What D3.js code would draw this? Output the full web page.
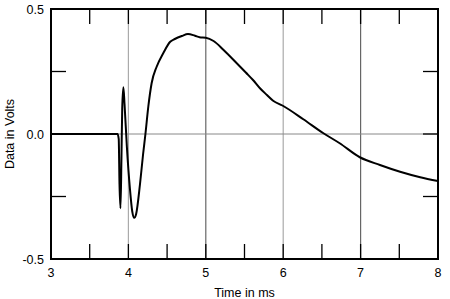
<!DOCTYPE html>
<html><head><meta charset="utf-8">
<script src="https://cdn.jsdelivr.net/npm/d3@7"></script>
<style>body{margin:0;background:#fff}svg{display:block}text{font-family:Arial,"Liberation Sans",sans-serif;fill:#000}</style>
</head><body><svg id="c" width="450" height="299"></svg>
<script>
const times = [3.0,3.86,3.875,3.885,3.898,3.91,3.92,3.935,3.95,3.98,4.02,4.05,4.075,4.10,4.15,4.19,4.22,4.257,4.30,4.365,4.45,4.54,4.60,4.69,4.77,4.86,4.92,5.0,5.1,5.23,5.40,5.52,5.61,5.70,5.79,5.87,5.99,6.26,6.52,6.73,6.99,7.25,7.51,7.77,8.0];
const volts = [0,0,-0.02,-0.2,-0.297,-0.1,0.1,0.187,0.12,-0.05,-0.22,-0.31,-0.335,-0.32,-0.2,-0.08,0.0,0.109,0.203,0.269,0.323,0.369,0.38,0.392,0.40,0.393,0.387,0.385,0.372,0.336,0.283,0.245,0.216,0.183,0.156,0.133,0.114,0.059,0.003,-0.037,-0.093,-0.124,-0.151,-0.173,-0.188];
const xTicks = [3,4,5,6,7,8];
const xMinor = [3.5,4.5,5.5,6.5,7.5];
const yTicks = [-0.5,0.0,0.5];
const yMinor = [-0.25,0.25];
const gridX = [4,5,6,7];
const gridXColor = ["#aaa","#666","#aaa","#666"];

const L=51,R=438,T=9,B=259;
const svg=d3.select("#c");
const x=d3.scaleLinear().domain([3,8]).range([L,R]);
const y=d3.scaleLinear().domain([-0.5,0.5]).range([B,T]);

svg.selectAll(".gx").data(gridX).enter().append("line")
  .attr("x1",d=>x(d)).attr("x2",d=>x(d)).attr("y1",T).attr("y2",B)
  .attr("stroke",(d,i)=>gridXColor[i]).attr("stroke-width",1.2);
svg.append("line").attr("x1",L).attr("x2",R).attr("y1",y(0)).attr("y2",y(0))
  .attr("stroke","#888").attr("stroke-width",1);

const tl=15;
const allX=xTicks.slice(1,-1).concat(xMinor);
allX.forEach(v=>{
  svg.append("line").attr("x1",x(v)).attr("x2",x(v)).attr("y1",B).attr("y2",B-tl).attr("stroke","#000").attr("stroke-width",1.3);
  svg.append("line").attr("x1",x(v)).attr("x2",x(v)).attr("y1",T).attr("y2",T+tl).attr("stroke","#000").attr("stroke-width",1.3);
});
[0].concat(yMinor).forEach(v=>{
  svg.append("line").attr("x1",L).attr("x2",L+tl).attr("y1",y(v)).attr("y2",y(v)).attr("stroke","#000").attr("stroke-width",1.3);
  svg.append("line").attr("x1",R).attr("x2",R-tl).attr("y1",y(v)).attr("y2",y(v)).attr("stroke","#000").attr("stroke-width",1.3);
});

const pts=times.map((t,i)=>[t,volts[i]]);
svg.append("path").datum(pts)
  .attr("d",d3.line().x(d=>x(d[0])).y(d=>y(d[1])).curve(d3.curveMonotoneX))
  .attr("fill","none").attr("stroke","#000").attr("stroke-width",2).attr("stroke-linejoin","round");

svg.append("rect").attr("x",L).attr("y",T).attr("width",R-L).attr("height",B-T)
  .attr("fill","none").attr("stroke","#000").attr("stroke-width",2);

svg.selectAll(".xl").data(xTicks).enter().append("text")
  .attr("x",d=>x(d)).attr("y",277).attr("text-anchor","middle").attr("font-size",12.5).text(d=>d);
svg.selectAll(".yl").data(yTicks).enter().append("text")
  .attr("x",44).attr("y",d=>y(d)+4.5).attr("text-anchor","end").attr("font-size",12.5).text(d=>d.toFixed(1));
svg.append("text").attr("x",x(5.5)).attr("y",297).attr("text-anchor","middle").attr("font-size",12.5).text("Time in ms");
svg.append("text").attr("transform","translate(14,"+y(0)+") rotate(-90)").attr("text-anchor","middle").attr("font-size",12.5).text("Data in Volts");
</script></body></html>
